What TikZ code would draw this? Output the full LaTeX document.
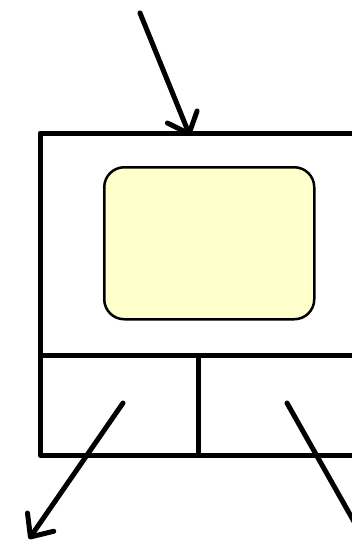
\documentclass[tikz,border=0pt]{standalone}
\usetikzlibrary{arrows.meta}
\definecolor{yellowfill}{HTML}{FFFFCC}
\begin{document}
\begin{tikzpicture}[x=1pt,y=-1pt,line width=5pt,
  arr/.style={line cap=round,-{Straight Barb[length=18pt,width=32pt,line cap=round,line join=round]}},
  screenbox/.style={draw,line width=2.5pt,fill=yellowfill,rounded corners=20pt,minimum width=210pt,minimum height=152pt,anchor=north west,inner sep=0pt}]
\useasboundingbox (0,0) rectangle (352,555);
\clip (0,0) rectangle (352,555);
\coordinate (tr) at (370,133);
\coordinate (tl) at (40,133);
\coordinate (bl) at (40,455);
\coordinate (br) at (370,455);
\coordinate (ml) at (40,355);
\coordinate (mr) at (370,355);
\coordinate (dt) at (198,355);
\coordinate (db) at (198,455);
\draw[line join=round] (tr) -- (tl) -- (bl) -- (br);
\draw (ml) -- (mr);
\draw (dt) -- (db);
\node[screenbox] (screen) at (103,166) {};
\coordinate (a1s) at (140,13);
\coordinate (a1e) at (190,136);
\draw[arr] (a1s) -- (a1e);
\coordinate (a2s) at (123,403);
\coordinate (a2e) at (29,539);
\draw[arr] (a2s) -- (a2e);
\coordinate (a3s) at (287,403);
\coordinate (a3e) at (400,603);
\draw[arr] (a3s) -- (a3e);
\end{tikzpicture}
\end{document}
